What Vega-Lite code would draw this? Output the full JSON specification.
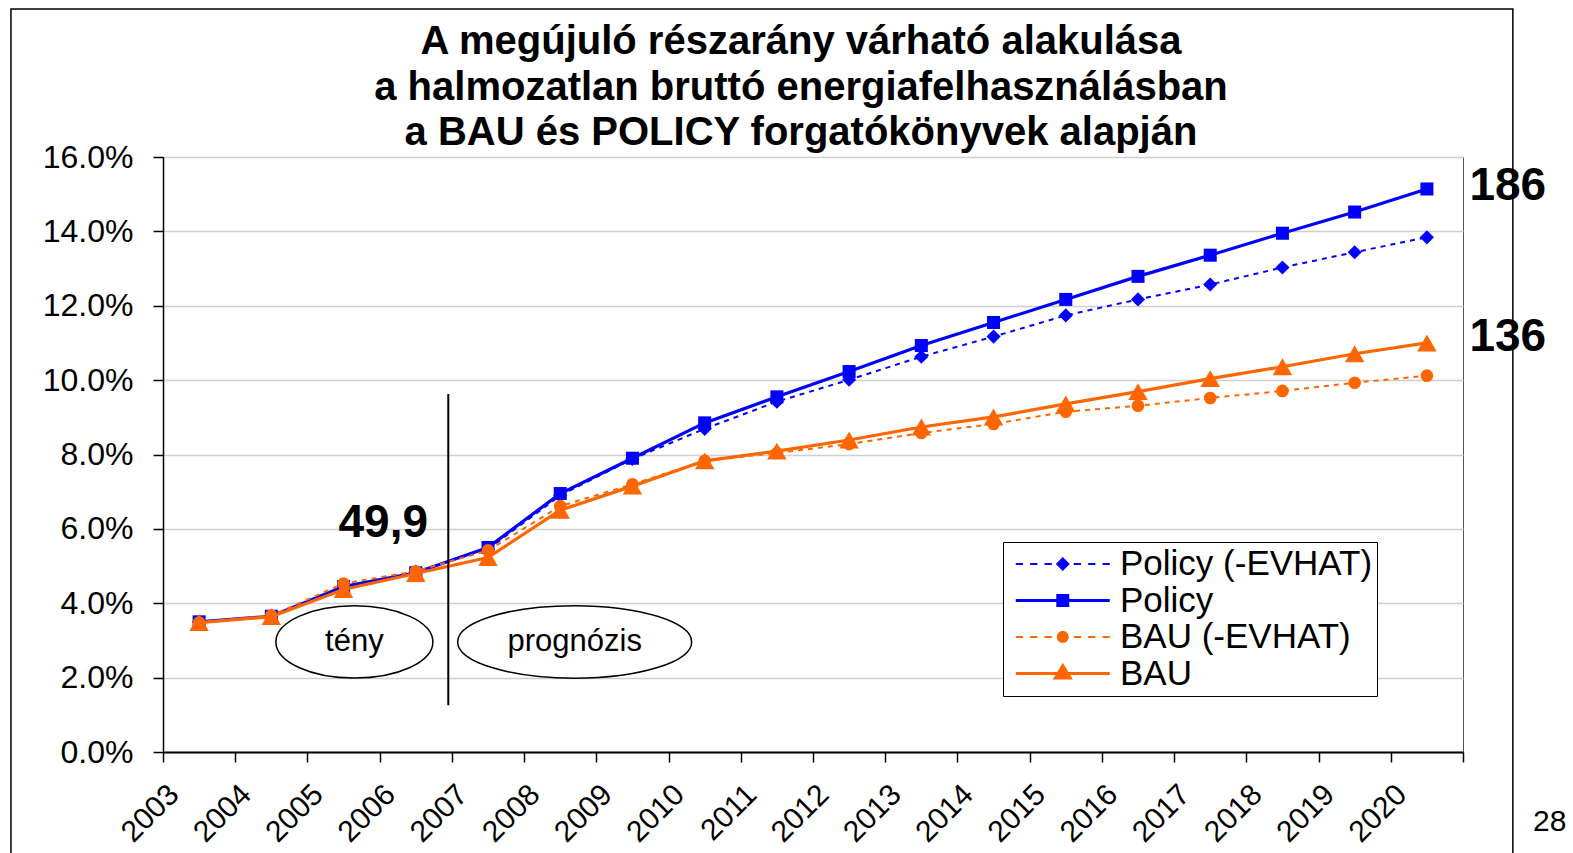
{
  "$schema": "https://vega.github.io/schema/vega-lite/v6.json",
  "width": 1300,
  "height": 595,
  "autosize": "none",
  "padding": {"left": 163, "top": 157, "right": 110, "bottom": 101},
  "background": "white",
  "title": {
    "text": ["A megújuló részarány várható alakulása", "a halmozatlan bruttó energiafelhasználásban", "a BAU és POLICY forgatókönyvek alapján"],
    "font": "Liberation Sans", "fontSize": 40, "fontWeight": "bold", "color": "black",
    "lineHeight": 45.5, "anchor": "middle", "frame": "group", "dx": -12, "offset": -145
  },
  "config": {"view": {"stroke": "#555555", "strokeWidth": 1}, "font": "Liberation Sans"},
  "data": {"values": [
    {"year": 2003.5, "series": "Policy (-EVHAT)", "value": 0.035},
    {"year": 2004.5, "series": "Policy (-EVHAT)", "value": 0.0365},
    {"year": 2005.5, "series": "Policy (-EVHAT)", "value": 0.0445},
    {"year": 2006.5, "series": "Policy (-EVHAT)", "value": 0.0485},
    {"year": 2007.5, "series": "Policy (-EVHAT)", "value": 0.0545},
    {"year": 2008.5, "series": "Policy (-EVHAT)", "value": 0.069},
    {"year": 2009.5, "series": "Policy (-EVHAT)", "value": 0.0788},
    {"year": 2010.5, "series": "Policy (-EVHAT)", "value": 0.0869},
    {"year": 2011.5, "series": "Policy (-EVHAT)", "value": 0.0942},
    {"year": 2012.5, "series": "Policy (-EVHAT)", "value": 0.1001},
    {"year": 2013.5, "series": "Policy (-EVHAT)", "value": 0.1063},
    {"year": 2014.5, "series": "Policy (-EVHAT)", "value": 0.1117},
    {"year": 2015.5, "series": "Policy (-EVHAT)", "value": 0.1174},
    {"year": 2016.5, "series": "Policy (-EVHAT)", "value": 0.1217},
    {"year": 2017.5, "series": "Policy (-EVHAT)", "value": 0.1257},
    {"year": 2018.5, "series": "Policy (-EVHAT)", "value": 0.1303},
    {"year": 2019.5, "series": "Policy (-EVHAT)", "value": 0.1344},
    {"year": 2020.5, "series": "Policy (-EVHAT)", "value": 0.1384},
    {"year": 2003.5, "series": "Policy", "value": 0.035},
    {"year": 2004.5, "series": "Policy", "value": 0.0365},
    {"year": 2005.5, "series": "Policy", "value": 0.0445},
    {"year": 2006.5, "series": "Policy", "value": 0.0482},
    {"year": 2007.5, "series": "Policy", "value": 0.055},
    {"year": 2008.5, "series": "Policy", "value": 0.0695},
    {"year": 2009.5, "series": "Policy", "value": 0.079},
    {"year": 2010.5, "series": "Policy", "value": 0.0885},
    {"year": 2011.5, "series": "Policy", "value": 0.0955},
    {"year": 2012.5, "series": "Policy", "value": 0.1023},
    {"year": 2013.5, "series": "Policy", "value": 0.1093},
    {"year": 2014.5, "series": "Policy", "value": 0.1155},
    {"year": 2015.5, "series": "Policy", "value": 0.1217},
    {"year": 2016.5, "series": "Policy", "value": 0.1279},
    {"year": 2017.5, "series": "Policy", "value": 0.1336},
    {"year": 2018.5, "series": "Policy", "value": 0.1395},
    {"year": 2019.5, "series": "Policy", "value": 0.1452},
    {"year": 2020.5, "series": "Policy", "value": 0.1514},
    {"year": 2003.5, "series": "BAU (-EVHAT)", "value": 0.0348},
    {"year": 2004.5, "series": "BAU (-EVHAT)", "value": 0.0367},
    {"year": 2005.5, "series": "BAU (-EVHAT)", "value": 0.0453},
    {"year": 2006.5, "series": "BAU (-EVHAT)", "value": 0.0486},
    {"year": 2007.5, "series": "BAU (-EVHAT)", "value": 0.0542},
    {"year": 2008.5, "series": "BAU (-EVHAT)", "value": 0.0661},
    {"year": 2009.5, "series": "BAU (-EVHAT)", "value": 0.072},
    {"year": 2010.5, "series": "BAU (-EVHAT)", "value": 0.0783},
    {"year": 2011.5, "series": "BAU (-EVHAT)", "value": 0.0804},
    {"year": 2012.5, "series": "BAU (-EVHAT)", "value": 0.0828},
    {"year": 2013.5, "series": "BAU (-EVHAT)", "value": 0.0858},
    {"year": 2014.5, "series": "BAU (-EVHAT)", "value": 0.0882},
    {"year": 2015.5, "series": "BAU (-EVHAT)", "value": 0.0915},
    {"year": 2016.5, "series": "BAU (-EVHAT)", "value": 0.0931},
    {"year": 2017.5, "series": "BAU (-EVHAT)", "value": 0.0952},
    {"year": 2018.5, "series": "BAU (-EVHAT)", "value": 0.0971},
    {"year": 2019.5, "series": "BAU (-EVHAT)", "value": 0.0993},
    {"year": 2020.5, "series": "BAU (-EVHAT)", "value": 0.1012},
    {"year": 2003.5, "series": "BAU", "value": 0.0348},
    {"year": 2004.5, "series": "BAU", "value": 0.0364},
    {"year": 2005.5, "series": "BAU", "value": 0.0437},
    {"year": 2006.5, "series": "BAU", "value": 0.048},
    {"year": 2007.5, "series": "BAU", "value": 0.0523},
    {"year": 2008.5, "series": "BAU", "value": 0.065},
    {"year": 2009.5, "series": "BAU", "value": 0.0715},
    {"year": 2010.5, "series": "BAU", "value": 0.0783},
    {"year": 2011.5, "series": "BAU", "value": 0.0809},
    {"year": 2012.5, "series": "BAU", "value": 0.0839},
    {"year": 2013.5, "series": "BAU", "value": 0.0874},
    {"year": 2014.5, "series": "BAU", "value": 0.0901},
    {"year": 2015.5, "series": "BAU", "value": 0.0936},
    {"year": 2016.5, "series": "BAU", "value": 0.0969},
    {"year": 2017.5, "series": "BAU", "value": 0.1004},
    {"year": 2018.5, "series": "BAU", "value": 0.1036},
    {"year": 2019.5, "series": "BAU", "value": 0.1071},
    {"year": 2020.5, "series": "BAU", "value": 0.11}
  ]},
  "layer": [
    {
      "data": {"values": [{"x1": 2000.895, "x2": 2021.69, "y1": 0.1998, "y2": -0.03}]},
      "mark": {"type": "rect", "filled": false, "stroke": "black", "strokeWidth": 1.5, "clip": false},
      "encoding": {
        "x": {"field": "x1", "type": "quantitative", "scale": {"domain": [2003, 2021], "nice": false, "zero": false},
          "axis": {"values": [2003, 2004, 2005, 2006, 2007, 2008, 2009, 2010, 2011, 2012, 2013, 2014, 2015, 2016, 2017, 2018, 2019, 2020, 2021],
            "labelExpr": "datum.value >= 2021 ? '' : format(datum.value, 'd')", "labelAngle": -45, "labelFontSize": 30,
            "labelFont": "Liberation Sans", "labelColor": "black", "tickColor": "black", "tickSize": 10, "tickWidth": 1.5,
            "domainColor": "black", "domainWidth": 2, "grid": false, "title": null, "labelPadding": 17, "labelOverlap": false}},
        "x2": {"field": "x2"},
        "y": {"field": "y1", "type": "quantitative", "scale": {"domain": [0, 0.16], "nice": false},
          "axis": {"values": [0, 0.02, 0.04, 0.06, 0.08, 0.1, 0.12, 0.14, 0.16], "format": ".1%", "labelFontSize": 32,
            "labelFont": "Liberation Sans", "labelColor": "black", "tickColor": "black", "tickSize": 10, "tickWidth": 1.5,
            "domainColor": "black", "domainWidth": 1.5, "gridColor": "#cfcfcf", "gridWidth": 1.5, "labelPadding": 20, "title": null}},
        "y2": {"field": "y2"}
      }
    },
    {
      "transform": [{"filter": "datum.series == 'Policy (-EVHAT)'"}],
      "mark": {"type": "line", "color": "#0000ff", "strokeWidth": 2, "strokeDash": [5, 5]},
      "encoding": {
        "x": {"field": "year", "type": "quantitative", "scale": {"domain": [2003, 2021], "nice": false, "zero": false}},
        "y": {"field": "value", "type": "quantitative", "scale": {"domain": [0, 0.16], "nice": false}}
      }
    },
    {
      "transform": [{"filter": "datum.series == 'Policy (-EVHAT)'"}],
      "mark": {"type": "point", "shape": "diamond", "filled": true, "color": "#0000ff", "size": 200, "opacity": 1},
      "encoding": {
        "x": {"field": "year", "type": "quantitative", "scale": {"domain": [2003, 2021], "nice": false, "zero": false}},
        "y": {"field": "value", "type": "quantitative", "scale": {"domain": [0, 0.16], "nice": false}}
      }
    },
    {
      "transform": [{"filter": "datum.series == 'Policy'"}],
      "mark": {"type": "line", "color": "#0000ff", "strokeWidth": 3.2},
      "encoding": {
        "x": {"field": "year", "type": "quantitative", "scale": {"domain": [2003, 2021], "nice": false, "zero": false}},
        "y": {"field": "value", "type": "quantitative", "scale": {"domain": [0, 0.16], "nice": false}}
      }
    },
    {
      "transform": [{"filter": "datum.series == 'Policy'"}],
      "mark": {"type": "point", "shape": "square", "filled": true, "color": "#0000ff", "size": 170, "opacity": 1},
      "encoding": {
        "x": {"field": "year", "type": "quantitative", "scale": {"domain": [2003, 2021], "nice": false, "zero": false}},
        "y": {"field": "value", "type": "quantitative", "scale": {"domain": [0, 0.16], "nice": false}}
      }
    },
    {
      "transform": [{"filter": "datum.series == 'BAU (-EVHAT)'"}],
      "mark": {"type": "line", "color": "#ff6600", "strokeWidth": 2, "strokeDash": [5, 5]},
      "encoding": {
        "x": {"field": "year", "type": "quantitative", "scale": {"domain": [2003, 2021], "nice": false, "zero": false}},
        "y": {"field": "value", "type": "quantitative", "scale": {"domain": [0, 0.16], "nice": false}}
      }
    },
    {
      "transform": [{"filter": "datum.series == 'BAU (-EVHAT)'"}],
      "mark": {"type": "point", "shape": "circle", "filled": true, "color": "#ff6600", "size": 160, "opacity": 1},
      "encoding": {
        "x": {"field": "year", "type": "quantitative", "scale": {"domain": [2003, 2021], "nice": false, "zero": false}},
        "y": {"field": "value", "type": "quantitative", "scale": {"domain": [0, 0.16], "nice": false}}
      }
    },
    {
      "transform": [{"filter": "datum.series == 'BAU'"}],
      "mark": {"type": "line", "color": "#ff6600", "strokeWidth": 3.2},
      "encoding": {
        "x": {"field": "year", "type": "quantitative", "scale": {"domain": [2003, 2021], "nice": false, "zero": false}},
        "y": {"field": "value", "type": "quantitative", "scale": {"domain": [0, 0.16], "nice": false}}
      }
    },
    {
      "transform": [{"filter": "datum.series == 'BAU'"}],
      "mark": {"type": "point", "shape": "triangle-up", "filled": true, "color": "#ff6600", "size": 380, "opacity": 1},
      "encoding": {
        "x": {"field": "year", "type": "quantitative", "scale": {"domain": [2003, 2021], "nice": false, "zero": false}},
        "y": {"field": "value", "type": "quantitative", "scale": {"domain": [0, 0.16], "nice": false}}
      }
    },
    {
      "transform": [{"filter": "false"}],
      "mark": {"type": "point", "filled": true, "opacity": 1},
      "encoding": {
        "x": {"field": "year", "type": "quantitative", "scale": {"domain": [2003, 2021], "nice": false, "zero": false}},
        "y": {"field": "value", "type": "quantitative", "scale": {"domain": [0, 0.16], "nice": false}},
        "color": {"field": "series", "type": "nominal",
          "scale": {"domain": ["Policy (-EVHAT)", "Policy", "BAU (-EVHAT)", "BAU"], "range": ["#0000ff", "#0000ff", "#ff6600", "#ff6600"]},
          "legend": {"orient": "none", "legendX": 840, "legendY": 385, "title": null, "fillColor": "white", "strokeColor": "black",
            "padding": 4, "labelFont": "Liberation Sans", "labelFontSize": 35, "labelColor": "black", "labelLimit": 500, "symbolSize": 1296,
            "symbolOffset": 7, "labelOffset": 70, "rowPadding": 0.5, "symbolOpacity": 1, "symbolStrokeWidth": 0}},
        "shape": {"field": "series", "type": "nominal",
          "scale": {"domain": ["Policy (-EVHAT)", "Policy", "BAU (-EVHAT)", "BAU"],
            "range": [
              "M-0.9,-0.05H-0.5V0.05H-0.9ZM-0.1,-0.05H0.3V0.05H-0.1ZM0.7,-0.05H1.1V0.05H0.7ZM2.32,-0.05H2.72V0.05H2.32ZM3.12,-0.05H3.52V0.05H3.12ZM3.92,-0.05H4.32V0.05H3.92ZM1.71,-0.39L2.1,0L1.71,0.39L1.32,0Z",
              "M-0.9,-0.089H4.32V0.089H-0.9ZM1.35,-0.36H2.07V0.36H1.35Z",
              "M-0.9,-0.05H-0.5V0.05H-0.9ZM-0.1,-0.05H0.3V0.05H-0.1ZM0.7,-0.05H1.1V0.05H0.7ZM2.32,-0.05H2.72V0.05H2.32ZM3.12,-0.05H3.52V0.05H3.12ZM3.92,-0.05H4.32V0.05H3.92ZM1.38,0A0.33,0.33 0 1,1 2.04,0A0.33,0.33 0 1,1 1.38,0Z",
              "M-0.9,-0.089H4.32V0.089H-0.9ZM1.71,-0.6L2.27,0.34L1.15,0.34Z"
            ]},
          "legend": {"orient": "none", "legendX": 840, "legendY": 385, "title": null, "fillColor": "white", "strokeColor": "black",
            "padding": 4, "labelFont": "Liberation Sans", "labelFontSize": 35, "labelColor": "black", "labelLimit": 500, "symbolSize": 1296,
            "symbolOffset": 7, "labelOffset": 70, "rowPadding": 0.5, "symbolOpacity": 1, "symbolStrokeWidth": 0}
        }
      }
    },
    {
      "data": {"values": [{"x": 2006.95, "y1": 0.0963, "y2": 0.0126}]},
      "mark": {"type": "rule", "color": "black", "strokeWidth": 2},
      "encoding": {
        "x": {"field": "x", "type": "quantitative", "scale": {"domain": [2003, 2021], "nice": false, "zero": false}},
        "y": {"field": "y1", "type": "quantitative", "scale": {"domain": [0, 0.16], "nice": false}},
        "y2": {"field": "y2"}
      }
    },
    {
      "data": {"values": [{"x": 2005.65, "y": 0.0296}]},
      "mark": {"type": "point", "shape": "M-1,0A1,0.46 0 1,0 1,0A1,0.46 0 1,0 -1,0Z", "size": 24649, "filled": false, "stroke": "black", "strokeWidth": 1.5, "opacity": 1},
      "encoding": {
        "x": {"field": "x", "type": "quantitative", "scale": {"domain": [2003, 2021], "nice": false, "zero": false}},
        "y": {"field": "y", "type": "quantitative", "scale": {"domain": [0, 0.16], "nice": false}}
      }
    },
    {
      "data": {"values": [{"x": 2008.7, "y": 0.0296}]},
      "mark": {"type": "point", "shape": "M-1,0A1,0.31 0 1,0 1,0A1,0.31 0 1,0 -1,0Z", "size": 54756, "filled": false, "stroke": "black", "strokeWidth": 1.5, "opacity": 1},
      "encoding": {
        "x": {"field": "x", "type": "quantitative", "scale": {"domain": [2003, 2021], "nice": false, "zero": false}},
        "y": {"field": "y", "type": "quantitative", "scale": {"domain": [0, 0.16], "nice": false}}
      }
    },
    {
      "data": {"values": [{"x": 2005.65, "y": 0.0296, "t": "tény"}, {"x": 2008.7, "y": 0.0296, "t": "prognózis"}]},
      "mark": {"type": "text", "font": "Liberation Sans", "fontSize": 31, "color": "black", "align": "center", "baseline": "middle"},
      "encoding": {
        "x": {"field": "x", "type": "quantitative", "scale": {"domain": [2003, 2021], "nice": false, "zero": false}},
        "y": {"field": "y", "type": "quantitative", "scale": {"domain": [0, 0.16], "nice": false}},
        "text": {"field": "t"}
      }
    },
    {
      "data": {"values": [{"x": 2006.05, "y": 0.0617, "t": "49,9"}, {"x": 2021.62, "y": 0.1522, "t": "186"}, {"x": 2021.62, "y": 0.1117, "t": "136"}]},
      "mark": {"type": "text", "font": "Liberation Sans", "fontSize": 46, "fontWeight": "bold", "color": "black", "align": "center", "baseline": "middle", "clip": false},
      "encoding": {
        "x": {"field": "x", "type": "quantitative", "scale": {"domain": [2003, 2021], "nice": false, "zero": false}},
        "y": {"field": "y", "type": "quantitative", "scale": {"domain": [0, 0.16], "nice": false}},
        "text": {"field": "t"}
      }
    },
    {
      "data": {"values": [{"x": 2022.2, "y": -0.0188, "t": "28"}]},
      "mark": {"type": "text", "font": "Liberation Sans", "fontSize": 30, "color": "black", "align": "center", "baseline": "middle", "clip": false},
      "encoding": {
        "x": {"field": "x", "type": "quantitative", "scale": {"domain": [2003, 2021], "nice": false, "zero": false}},
        "y": {"field": "y", "type": "quantitative", "scale": {"domain": [0, 0.16], "nice": false}},
        "text": {"field": "t"}
      }
    }
  ]
}
